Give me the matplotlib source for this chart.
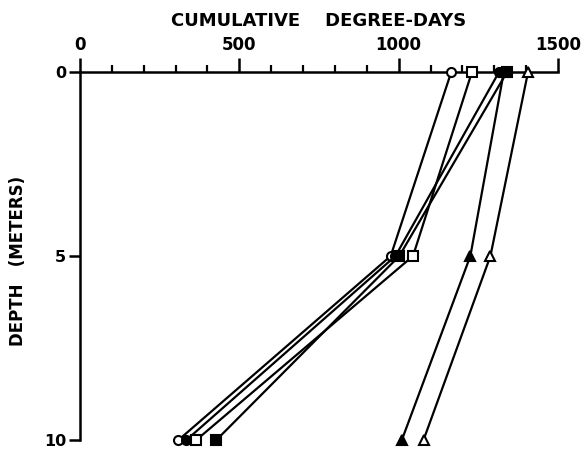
import matplotlib
matplotlib.use("Agg")
import matplotlib.pyplot as plt
from matplotlib.ticker import MultipleLocator

# depth of the three readings (m)
depths = [0, 5, 10]

# cumulative degree-days at each depth, one list per station
open_circle = [1165, 975, 309]
filled_circle = [1315, 990, 334]
open_square = [1230, 1045, 365]
filled_square = [1340, 1002, 428]
filled_triangle = [1330, 1225, 1010]
open_triangle = [1406, 1288, 1078]

x_ticks = [0, 500, 1000, 1500]
y_ticks = [0, 5, 10]

plt.rcParams['font.family'] = ['DejaVu Sans']
plt.rcParams['font.weight'] = 'bold'

fig = plt.figure(figsize=(5.83, 4.49), dpi=100)
ax = fig.add_axes([0.1372, 0.02, 0.8199, 0.8196])

series = [
    (open_circle, 'o', 'white'),
    (filled_circle, 'o', 'black'),
    (open_square, 's', 'white'),
    (filled_square, 's', 'black'),
    (filled_triangle, '^', 'black'),
    (open_triangle, '^', 'white'),
]
for vals, mk, fc in series:
    ax.plot(vals, depths, color='black', lw=1.6, marker=mk, ms=6.5,
            mfc=fc, mec='black', mew=1.5, clip_on=False, zorder=3)

ax.set_xlim(0, 1500)
ax.set_ylim(10, 0)

ax.spines['right'].set_visible(False)
ax.spines['bottom'].set_visible(False)
ax.spines['top'].set_linewidth(1.8)
ax.spines['left'].set_linewidth(1.8)

ax.xaxis.tick_top()
ax.xaxis.set_label_position('top')
ax.set_xticks(x_ticks)
ax.xaxis.set_minor_locator(MultipleLocator(100))
ax.set_yticks(y_ticks)
ax.tick_params(axis='x', which='major', direction='out', length=10, width=1.8,
               labelsize=12, pad=3)
ax.tick_params(axis='x', which='minor', direction='out', length=5, width=1.6)
ax.tick_params(axis='y', which='major', direction='out', length=8, width=1.8,
               labelsize=11.5, pad=2)

ax.set_xlabel('CUMULATIVE    DEGREE-DAYS', fontsize=13, fontweight='bold',
              labelpad=7)
ax.set_ylabel('DEPTH   (METERS)', fontsize=12, fontweight='bold')
ax.yaxis.set_label_coords(-0.111, 0.486)

fig.savefig('out.png', dpi=100)
